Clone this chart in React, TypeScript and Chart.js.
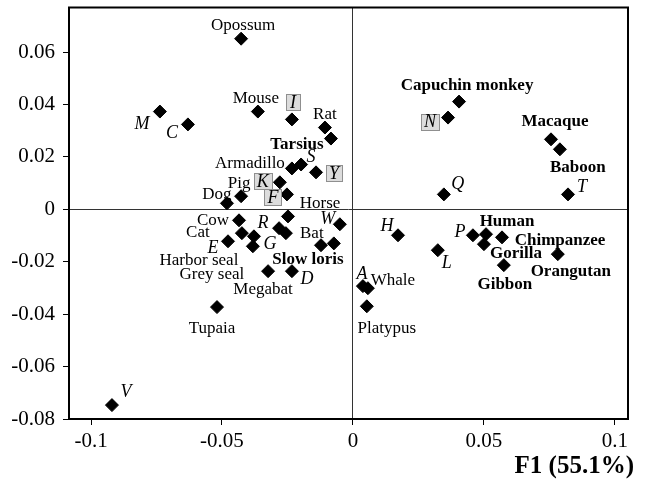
import { useEffect, useRef } from "react";
import { Chart, registerables } from "chart.js";

Chart.register(...registerables);

// ---- data ----
const names: string[] = [
  "Opossum", "M", "C", "Mouse", "I", "Rat", "Tarsius", "Armadillo", "S", "Y",
  "K", "Pig", "Dog", "F", "Horse", "Cow", "Cat", "Harbor seal", "Grey seal", "E",
  "R", "G", "Slow loris", "Bat", "W", "Megabat", "D", "Tupaia", "V", "Capuchin monkey",
  "N", "Macaque", "Baboon", "Q", "T", "H", "L", "P", "Human", "Chimpanzee",
  "Gorilla", "Orangutan", "Gibbon", "A", "Whale", "Platypus",
];

const f1Values: number[] = [
  -0.0427, -0.0737, -0.063, -0.0363, -0.0233, -0.0107, -0.0084, -0.0233, -0.0198, -0.0141,
  -0.0279, -0.0427, -0.0481, -0.0252, -0.0248, -0.0435, -0.0424, -0.0378, -0.0382, -0.0477,
  -0.0282, -0.0256, -0.0122, -0.0073, -0.005, -0.0324, -0.0233, -0.0519, -0.092, 0.0405,
  0.0363, 0.0756, 0.079, 0.0347, 0.0821, 0.0172, 0.0324, 0.0458, 0.0508, 0.0569,
  0.05, 0.0782, 0.0576, 0.0038, 0.0057, 0.0053,
];

const f2Values: number[] = [
  0.0651, 0.0373, 0.0324, 0.0373, 0.0343, 0.0312, 0.027, 0.0156, 0.0171, 0.0141,
  0.0103, 0.005, 0.0023, 0.0057, -0.0027, -0.0042, -0.0091, -0.0103, -0.0141, -0.0122,
  -0.0072, -0.0091, -0.0137, -0.013, -0.0057, -0.0236, -0.0236, -0.0373, -0.0747, 0.0411,
  0.035, 0.0267, 0.0229, 0.0057, 0.0057, -0.0099, -0.0156, -0.0099, -0.0095, -0.0107,
  -0.0133, -0.0171, -0.0213, -0.0293, -0.0301, -0.037,
];

// species / primate / amino acid / amino acid (boxed)
const groups: string[] = [
  "species", "amino", "amino", "species", "aminoBoxed", "species", "primate", "species", "amino", "aminoBoxed",
  "aminoBoxed", "species", "species", "aminoBoxed", "species", "species", "species", "species", "species", "amino",
  "amino", "amino", "primate", "species", "amino", "species", "amino", "species", "amino", "primate",
  "aminoBoxed", "primate", "primate", "amino", "amino", "amino", "amino", "amino", "primate", "primate",
  "primate", "primate", "primate", "amino", "species", "species",
];

const xTicks: number[] = [-0.1, -0.05, 0, 0.05, 0.1];
const yTicks: number[] = [-0.08, -0.06, -0.04, -0.02, 0, 0.02, 0.04, 0.06];
const xAxisTitle = "F1 (55.1%)";

const xMin = -0.1084;
const xMax = 0.105;
const yMin = -0.08;
const yMax = 0.077;

// ---- layout (label offsets from the marker, in px) ----
const labelOffsets: [number, number][] = [
  [2, -14], [-18, 12], [-16, 8], [-2, -14], [1, -17], [0, -14], [-34, 5], [-42, -6], [10, -8], [18, 1],
  [-17, -1], [-2, -14], [-10, -10], [-14, 3], [32, -14], [-26, -1], [-44, -2], [-55, 23], [-41, 27], [-15, 6],
  [-16, -6], [-16, 10], [-13, 13], [-22, -11], [-12, -6], [-5, 17], [15, 7], [-5, 20], [14, -14], [8, -17],
  [-18, 4], [4, -19], [18, 17], [14, -11], [14, -8], [-11, -10], [9, 12], [-13, -4], [21, -14], [58, 2],
  [32, 8], [13, 16], [1, 18], [-1, -13], [25, -9], [20, 21],
];

const SERIF = '"Liberation Serif", "Times New Roman", serif';
const groupFont: Record<string, string> = {
  species: `17px ${SERIF}`,
  primate: `bold 17px ${SERIF}`,
  amino: `italic 18px ${SERIF}`,
  aminoBoxed: `italic 18px ${SERIF}`,
};

const decorPlugin = {
  id: "decor",
  beforeDatasetsDraw(chart: any) {
    const { ctx, chartArea } = chart;
    ctx.save();
    ctx.strokeStyle = "#000";
    ctx.lineWidth = 2;
    ctx.strokeRect(chartArea.left, chartArea.top, chartArea.right - chartArea.left, chartArea.bottom - chartArea.top);
    ctx.restore();
  },
  afterDatasetsDraw(chart: any) {
    const { ctx, chartArea } = chart;
    const meta = chart.getDatasetMeta(0);
    ctx.save();
    ctx.textAlign = "center";
    ctx.textBaseline = "middle";
    meta.data.forEach((el: any, i: number) => {
      const [dx, dy] = labelOffsets[i];
      const x = el.x + dx;
      const y = el.y + dy;
      const g = groups[i];
      ctx.font = groupFont[g];
      if (g === "aminoBoxed") {
        const w = Math.max(14, ctx.measureText(names[i]).width + 6);
        ctx.fillStyle = "#dcdcdc";
        ctx.strokeStyle = "#8f8f8f";
        ctx.lineWidth = 1;
        ctx.fillRect(Math.round(x - w / 2) + 0.5, Math.round(y - 8) + 0.5, w, 16);
        ctx.strokeRect(Math.round(x - w / 2) + 0.5, Math.round(y - 8) + 0.5, w, 16);
      }
      ctx.fillStyle = "#000";
      ctx.fillText(names[i], x, y + 1);
    });
    ctx.font = `bold 25px ${SERIF}`;
    ctx.textAlign = "right";
    ctx.fillStyle = "#000";
    ctx.fillText(xAxisTitle, chartArea.right + 6, chart.height - 13);
    ctx.restore();
  },
};

const gridColor = (c: any) => (c.tick && c.tick.value === 0 ? "#333" : "rgba(0,0,0,0)");

export default function App() {
  const ref = useRef<HTMLCanvasElement | null>(null);
  useEffect(() => {
    if (!ref.current) return;
    const chart = new Chart(ref.current, {
      type: "scatter",
      data: {
        datasets: [
          {
            data: f1Values.map((x, i) => ({ x, y: f2Values[i] })),
            pointStyle: "rectRot",
            pointRadius: 6.5,
            pointHoverRadius: 6.5,
            backgroundColor: "#000",
            borderColor: "#000",
            borderWidth: 1,
          },
        ],
      },
      options: {
        animation: false,
        responsive: true,
        maintainAspectRatio: false,
        layout: { padding: { top: 7, right: 17, left: 0, bottom: 0 } },
        plugins: { legend: { display: false }, tooltip: { enabled: false }, title: { display: false } },
        scales: {
          x: {
            type: "linear",
            min: xMin,
            max: xMax,
            afterBuildTicks: (s: any) => {
              s.ticks = xTicks.map((v) => ({ value: v }));
            },
            afterFit: (s: any) => {
              s.height = 61;
              s.paddingLeft = 0;
              s.paddingRight = 0;
            },
            ticks: {
              font: { family: SERIF, size: 21 },
              color: "#000",
              padding: 4,
              maxRotation: 0,
              autoSkip: false,
              callback: (v: any) => String(v),
            },
            grid: { drawOnChartArea: true, color: gridColor, tickColor: "#000", tickLength: 6, lineWidth: 1 },
            border: { display: false },
          },
          y: {
            type: "linear",
            min: yMin,
            max: yMax,
            afterBuildTicks: (s: any) => {
              s.ticks = yTicks.map((v) => ({ value: v }));
            },
            afterFit: (s: any) => {
              s.width = 69;
              s.paddingTop = 0;
              s.paddingBottom = 0;
            },
            ticks: {
              font: { family: SERIF, size: 21 },
              color: "#000",
              padding: 8,
              autoSkip: false,
              callback: (v: any) => String(v),
            },
            grid: { drawOnChartArea: true, color: gridColor, tickColor: "#000", tickLength: 6, lineWidth: 1 },
            border: { display: false },
          },
        },
      },
      plugins: [decorPlugin],
    });
    return () => chart.destroy();
  }, []);
  return (
    <div style={{ position: "absolute", left: 0, top: 0, width: 645, height: 480, background: "#fff" }}>
      <canvas ref={ref} />
    </div>
  );
}
